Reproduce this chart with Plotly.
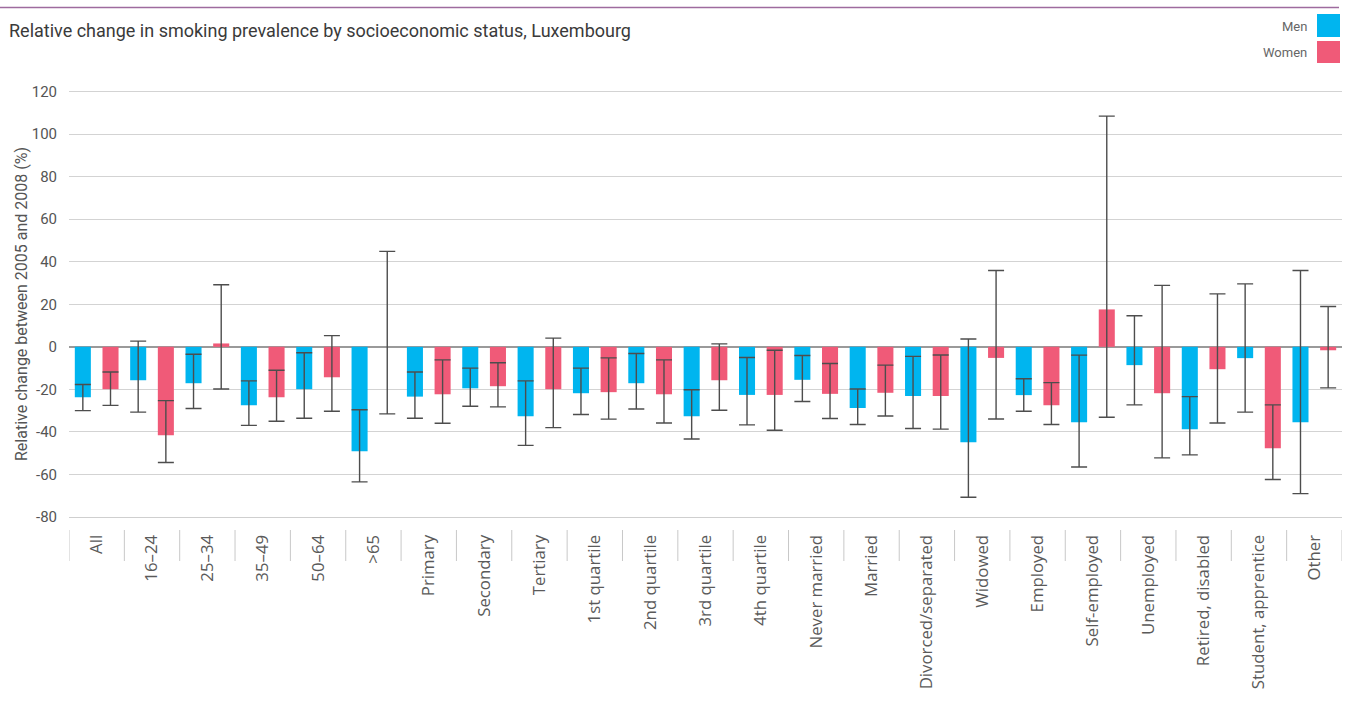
import plotly.graph_objects as go

# ---------------- data ----------------
categories = ["All", "16–24", "25–34", "35–49", "50–64", ">65", "Primary", "Secondary",
              "Tertiary", "1st quartile", "2nd quartile", "3rd quartile", "4th quartile",
              "Never married", "Married", "Divorced/separated", "Widowed", "Employed",
              "Self-employed", "Unemployed", "Retired, disabled", "Student, apprentice", "Other"]

men_values = [-23.7, -15.7, -17.1, -27.5, -19.9, -49.1, -23.4, -19.5, -32.6, -21.8, -17.1, -32.6,
              -22.6, -15.5, -28.7, -23.1, -44.8, -22.7, -35.5, -8.6, -38.7, -5.3, -35.5]
men_low = [-30.0, -30.7, -29.0, -36.9, -33.6, -63.5, -33.6, -27.9, -46.3, -31.8, -29.2, -43.3,
           -36.7, -25.7, -36.5, -38.4, -70.7, -30.3, -56.5, -27.3, -50.8, -30.7, -69.0]
men_high = [-17.7, 2.7, -3.5, -16.0, -2.8, -29.6, -11.8, -10.0, -16.0, -10.0, -3.1, -20.2,
            -5.0, -4.1, -19.8, -4.5, 3.7, -15.0, -3.9, 14.6, -23.4, 29.6, 35.9]

women_values = [-19.9, -41.6, 1.6, -23.7, -14.3, 0.0, -22.3, -18.5, -19.9, -21.3, -22.3, -15.7,
                -22.6, -22.1, -21.6, -23.1, -5.2, -27.4, 17.6, -21.8, -10.5, -47.7, -1.6]
women_low = [-27.5, -54.4, -19.8, -35.0, -30.3, -31.5, -35.9, -28.2, -38.0, -34.0, -35.8, -29.8,
             -39.2, -33.7, -32.5, -38.7, -33.9, -36.5, -33.1, -52.2, -35.8, -62.4, -19.3]
women_high = [-11.8, -25.3, 29.2, -11.0, 5.3, 44.9, -6.1, -7.5, 4.1, -5.2, -6.1, 1.4,
              -1.6, -7.8, -8.6, -3.8, 35.9, -16.8, 108.5, 28.9, 24.9, -27.3, 19.0]

y_tickvals = [-80, -60, -40, -20, 0, 20, 40, 60, 80, 100, 120]
y_ticktext = ["-80", "-60", "-40", "-20", "0", "20", "40", "60", "80", "100", "120"]

title_text = "Relative change in smoking prevalence by socioeconomic status, Luxembourg"
y_title = "Relative change between 2005 and 2008 (%)"
series_names = ["Men", "Women"]

# ---------------- style ----------------
MEN_COLOR = "#00B5EF"
WOMEN_COLOR = "#F05A78"
ERR_COLOR = "#4d4d4d"
NARROW = "Roboto, Liberation Sans, sans-serif"
WIDE = "Open Sans, Noto Sans, sans-serif"

W, H = 1352, 708
L, R, T, B = 69, 10, 81, 191
PW, PH = W - L - R, H - T - B


def px(xp):
    return (xp - L) / PW


def py(yp):
    return 1 - (yp - T) / PH


def err(vals, low, high):
    plus = [h - v for v, h in zip(vals, high)]
    minus = [v - lo for v, lo in zip(vals, low)]
    return plus, minus


mp, mm = err(men_values, men_low, men_high)
wp, wm = err(women_values, women_low, women_high)

fig = go.Figure()
fig.add_trace(go.Bar(
    x=categories, y=men_values, name=series_names[0], marker_color=MEN_COLOR,
    marker_line_width=0,
    error_y=dict(type="data", symmetric=False, array=mp, arrayminus=mm,
                 color=ERR_COLOR, thickness=1.4, width=8),
))
fig.add_trace(go.Bar(
    x=categories, y=women_values, name=series_names[1], marker_color=WOMEN_COLOR,
    marker_line_width=0,
    error_y=dict(type="data", symmetric=False, array=wp, arrayminus=wm,
                 color=ERR_COLOR, thickness=1.4, width=8),
))

shapes = []
# category separators below the axis
for i in range(len(categories) + 1):
    shapes.append(dict(type="line", xref="x", yref="paper", x0=i - 0.5, x1=i - 0.5,
                       y0=py(530), y1=py(561), line=dict(color="#c8c8c8", width=1)))
# top rule
shapes.append(dict(type="line", xref="paper", yref="paper", x0=px(0), x1=px(1339),
                   y0=py(7.5), y1=py(7.5), line=dict(color="#9E6B9E", width=1.5)))
# legend swatches
shapes.append(dict(type="rect", xref="paper", yref="paper", x0=px(1317), x1=px(1340),
                   y0=py(14), y1=py(37), fillcolor=MEN_COLOR, line_width=0))
shapes.append(dict(type="rect", xref="paper", yref="paper", x0=px(1317), x1=px(1340),
                   y0=py(41), y1=py(63), fillcolor=WOMEN_COLOR, line_width=0))

annotations = [
    dict(text=series_names[0], xref="paper", yref="paper", x=px(1309), y=py(26),
         xanchor="right", yanchor="middle", showarrow=False,
         font=dict(family=NARROW, size=13, color="#666666")),
    dict(text=series_names[1], xref="paper", yref="paper", x=px(1309), y=py(52),
         xanchor="right", yanchor="middle", showarrow=False,
         font=dict(family=NARROW, size=13, color="#666666")),
    dict(text=y_title, xref="paper", yref="paper", x=px(21), y=py(304), textangle=-90,
         xanchor="center", yanchor="middle", showarrow=False,
         font=dict(family=NARROW, size=16, color="#555555")),
]

fig.update_layout(
    width=W, height=H,
    margin=dict(l=L, r=R, t=T, b=B, pad=0),
    paper_bgcolor="white", plot_bgcolor="white",
    barmode="group", bargap=0.0, bargroupgap=0.42,
    showlegend=False,
    title=dict(text=title_text, x=9 / W, xref="container", xanchor="left",
               y=1 - 31 / H, yref="container", yanchor="middle",
               font=dict(family=NARROW, size=18, color="#3a3a3a")),
    shapes=shapes,
    annotations=annotations,
)

fig.update_yaxes(
    range=[-80, 125], tickvals=y_tickvals, ticktext=y_ticktext,
    showgrid=True, gridcolor="#d3d3d3", gridwidth=1.3,
    zeroline=True, zerolinecolor="#9a9a9a", zerolinewidth=1.6,
    ticks="outside", ticklen=8, tickcolor="rgba(0,0,0,0)",
    tickfont=dict(family=NARROW, size=15, color="#555555"),
    showline=False,
)
fig.update_xaxes(
    range=[-0.5, len(categories) - 0.5],
    tickangle=-90, ticks="outside", ticklen=10, tickcolor="rgba(0,0,0,0)",
    tickfont=dict(family=WIDE, size=16.8, color="#5a5a5a"),
    showline=True, linecolor="#cfcfcf", linewidth=1.3,
    showgrid=False,
)

fig.write_html("out.html", config={"displayModeBar": False},
               post_script="document.body.style.margin='0';")
